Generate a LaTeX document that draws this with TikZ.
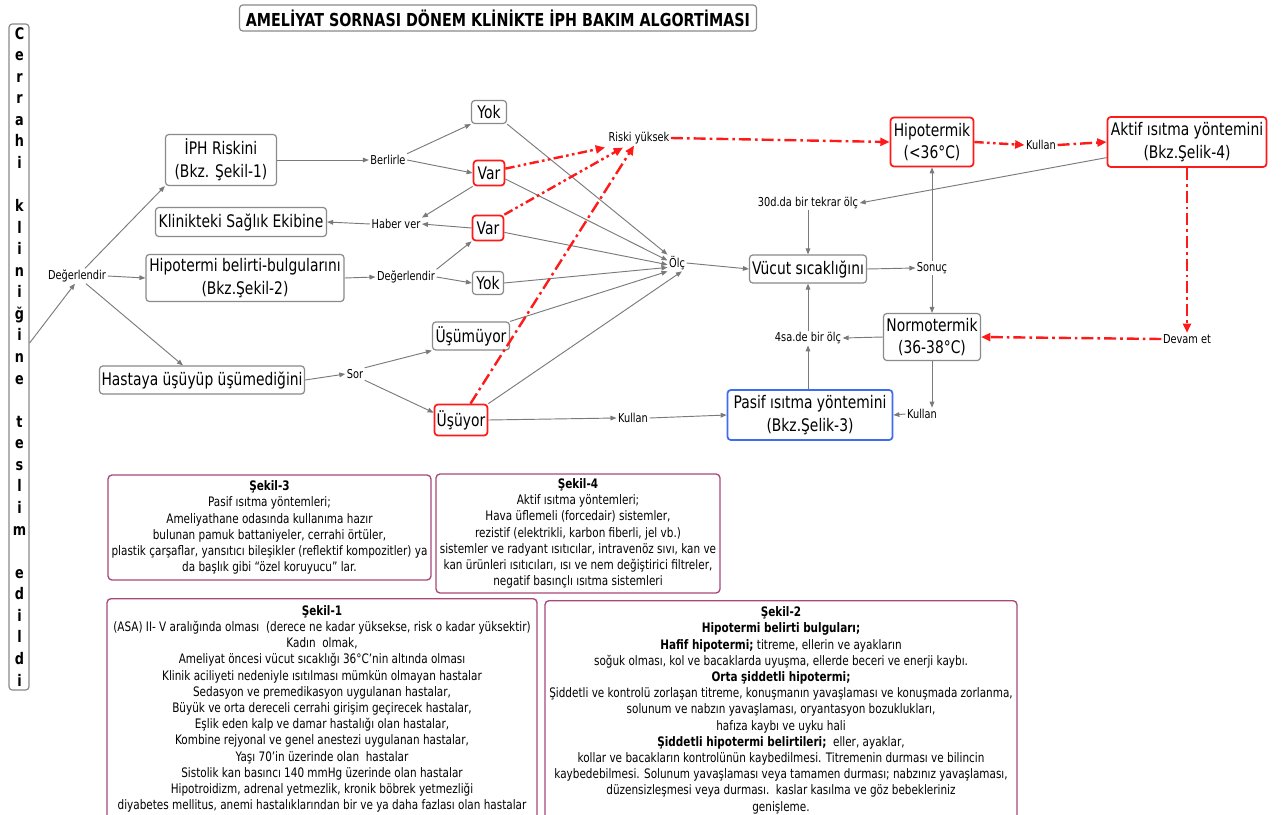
\documentclass[tikz,border=0pt]{standalone}
\usepackage{fontspec}
\setmainfont{DejaVu Sans}[FakeStretch=0.8]
\usetikzlibrary{arrows.meta,calc}

\definecolor{lnk}{HTML}{7A7A7A}
\definecolor{frm}{HTML}{8A8A8A}
\definecolor{hot}{HTML}{FF1A1A}
\definecolor{cool}{HTML}{3D6CF0}
\definecolor{plum}{HTML}{A8487A}

\newcommand{\mainfs}{\fontsize{13}{17}\selectfont}
\newcommand{\smallfs}{\fontsize{9.2}{11}\selectfont}
\newcommand{\notefs}{\fontsize{9.8}{12.15}\selectfont}
\newcommand{\titlefs}{\bfseries\fontsize{13.4}{15}\selectfont}
\newcommand{\barfs}{\bfseries\fontsize{12}{12}\selectfont}

\tikzset{
  sz/.style 2 args={minimum width=#1*0.75pt, minimum height=#2*0.75pt},
  box/.style={draw=frm, line width=0.9pt, rounded corners=2.5pt, align=center, inner sep=1pt, font=\mainfs},
  hotbox/.style={box, draw=hot, line width=1.3pt},
  coolbox/.style={box, draw=cool, line width=1.3pt},
  lbl/.style={inner sep=1pt, font=\smallfs},
  link/.style={draw=lnk, line width=0.7pt, -{Triangle[length=4.5pt,width=3.5pt]}},
  hotlink/.style={draw=hot, line width=1.8pt, dash pattern=on 9pt off 3pt on 2pt off 3pt, -{Triangle[length=7pt,width=6pt]}},
  hotlinkb/.style={hotlink, dash pattern=on 7pt off 2.5pt on 2pt off 2.5pt on 2pt off 2.5pt},
  note/.style={draw=plum, line width=1pt, rounded corners=3pt, align=center, font=\notefs, inner xsep=2pt}
}

\begin{document}
\begin{tikzpicture}[x=0.75pt,y=-0.75pt]
\useasboundingbox (0,0) rectangle (1288,814);
\fill[white] (0,0) rectangle (1288,814);

% title
\node[box, font=\titlefs, sz={517}{26}] (title) at (498,18) {AMELİYAT SORNASI DÖNEM KLİNİKTE İPH BAKIM ALGORTİMASI};

% vertical side bar
\node[draw=frm, line width=0.9pt, rounded corners=2.5pt, sz={20}{666}] (bar) at (19,357) {};
\foreach \k/\c in {0/C,1/e,2/r,3/r,4/a,5/h,6/i,8/k,9/l,10/i,11/n,12/i,13/ğ,14/i,15/n,16/e,18/t,19/e,20/s,21/l,22/i,23/m,25/e,26/d,27/i,28/l,29/d,30/i}
  \node[font=\barfs, anchor=base, inner sep=0pt] (bl\k) at (19.5,39+21.57*\k) {\c};

% main boxes
\node[box, sz={111}{51}] (iph) at (221,160) {İPH Riskini\\(Bkz. Şekil-1)};
\node[box, sz={171}{29}] (klinik) at (241,222) {Klinikteki Sağlık Ekibine};
\node[box, sz={198}{47}] (hipo) at (245,278) {Hipotermi belirti-bulgularını\\(Bkz.Şekil-2)};
\node[box, sz={205}{28}] (hasta) at (202,380) {Hastaya üşüyüp üşümediğini};
\node[box, sz={35}{23}] (yok1) at (489,112) {Yok};
\node[hotbox, sz={31}{25}] (var1) at (489,173) {Var};
\node[hotbox, sz={31}{25}] (var2) at (488,228) {Var};
\node[box, sz={31}{23}] (yok2) at (488,283) {Yok};
\node[box, sz={77}{28}] (usumuyor) at (471,336) {Üşümüyor};
\node[hotbox, sz={53}{31}] (usuyor) at (461,420) {Üşüyor};
\node[box, sz={117}{28}] (vucut) at (808,269) {Vücut sıcaklığını};
\node[hotbox, sz={83}{49}] (hipotermik) at (932,142) {Hipotermik\\(<36°C)};
\node[hotbox, sz={159}{50}] (aktif) at (1187,142) {Aktif ısıtma yöntemini\\(Bkz.Şelik-4)};
\node[box, sz={97}{47}] (normo) at (932,337) {Normotermik\\(36-38°C)};
\node[coolbox, sz={165}{50}] (pasif) at (810,415) {Pasif ısıtma yöntemini\\(Bkz.Şelik-3)};

% connector labels
\node[lbl] (deg1) at (77,276) {Değerlendir};
\node[lbl] (berlirle) at (388,160) {Berlirle};
\node[lbl] (haber) at (396,224) {Haber ver};
\node[lbl] (deg2) at (406,277) {Değerlendir};
\node[lbl] (sor) at (355,374) {Sor};
\node[lbl] (riski) at (639,138) {Riski yüksek};
\node[lbl] (olc) at (677,263) {Ölç};
\node[lbl] (sonuc) at (932,268) {Sonuç};
\node[lbl] (tekrar) at (808,203) {30d.da bir tekrar ölç};
\node[lbl] (kullanR) at (1041,145) {Kullan};
\node[lbl] (devam) at (1187,339) {Devam et};
\node[lbl] (dortsa) at (808,338) {4sa.de bir ölç};
\node[lbl] (kullanN) at (922,414) {Kullan};
\node[lbl] (kullanM) at (633,418) {Kullan};

% gray connectors
\draw[link] ($(bar.east)+(0,-14)$) -- (deg1.-105);
\draw[link] ($(deg1.north)+(8,0)$) -- (iph.south west);
\draw[link] (deg1.east) -- (hipo.west);
\draw[link] ($(deg1.south)+(9,0)$) -- ($(hasta.north)+(-19,0)$);
\draw[link] (iph.east) -- (berlirle.west);
\draw[link] (berlirle.north east) -- (yok1.south west);
\draw[link] (berlirle.east) -- (var1.west);
\draw[link] (var1.south west) -- (haber.north east);
\draw[link] (var2.west) -- (haber.east);
\draw[link] (haber.west) -- (klinik.east);
\draw[link] (hipo.east) -- (deg2.west);
\draw[link] (deg2.north east) -- (var2.south west);
\draw[link] (deg2.east) -- (yok2.west);
\draw[link] (hasta.east) -- (sor.west);
\draw[link] (sor.north east) -- (usumuyor.south west);
\draw[link] (sor.south east) -- (usuyor.165);
\draw[link] (yok1.south east) -- (olc.north west);
\draw[link] (var1.-20) -- (olc.165);
\draw[link] (var2.-15) -- (olc.190);
\draw[link] (yok2.east) -- (olc.205);
\draw[link] (usumuyor.north east) -- (olc.south west);
\draw[link] (usuyor.north east) -- (olc.-60);
\draw[link] (olc.east) -- (vucut.west);
\draw[link] (vucut.east) -- (sonuc.west);
\draw[link] (sonuc.north) -- (sonuc.north |- hipotermik.south);
\draw[link] (sonuc.south) -- (sonuc.south |- normo.north);
\draw[link] (aktif.191) -- (tekrar.east);
\draw[link] (tekrar.south) -- (tekrar.south |- vucut.north);
\draw[link] (normo.west) -- (dortsa.east);
\draw[link] (dortsa.south |- pasif.north) -- (dortsa.south);
\draw[link] (dortsa.north) -- (dortsa.north |- vucut.south);
\draw[link] (normo.south) -- (normo.south |- kullanN.north);
\draw[link] (kullanN.west) -- (pasif.east);
\draw[link] (usuyor.east) -- (kullanM.west);
\draw[link] (kullanM.east) -- (pasif.west);

% red (high risk) connectors
\draw[hotlinkb] (var1.15) -- ($(riski.south west)+(-2,2)$);
\draw[hotlinkb] (var2.north east) -- ($(riski.south west)+(16,2)$);
\draw[hotlink] (usuyor.60) -- ($(riski.south west)+(27,0)$);
\draw[hotlink] (riski.east) -- (hipotermik.west);
\draw[hotlinkb] (hipotermik.east) -- (kullanR.west);
\draw[hotlink] (kullanR.east) -- (aktif.west);
\draw[hotlink] (aktif.south) -- (aktif.south |- devam.north);
\draw[hotlink] (devam.west) -- (normo.east);

% reference notes
\node[note, sz={323}{105}] (sekil3) at (269.5,527.5) {\textbf{Şekil-3}\\
Pasif ısıtma yöntemleri;\\
Ameliyathane odasında kullanıma hazır\\
bulunan pamuk battaniyeler, cerrahi örtüler,\\
plastik çarşaflar, yansıtıcı bileşikler (reflektif kompozitler) ya\\
da başlık gibi “özel koruyucu” lar.};

\node[note, sz={284}{119}] (sekil4) at (578,533.5) {\textbf{Şekil-4}\\
Aktif ısıtma yöntemleri;\\
Hava üflemeli (forcedair) sistemler,\\
rezistif (elektrikli, karbon fiberli, jel vb.)\\
sistemler ve radyant ısıtıcılar, intravenöz sıvı, kan ve\\
kan ürünleri ısıtıcıları, ısı ve nem değiştirici filtreler,\\
negatif basınçlı ısıtma sistemleri};

\node[note, anchor=north, minimum width=430*0.75pt, inner ysep=5pt] (sekil1) at (322,598) {\textbf{Şekil-1}\\
(ASA) II- V aralığında olması\ \ (derece ne kadar yüksekse, risk o kadar yüksektir)\\
Kadın\ \ olmak,\\
Ameliyat öncesi vücut sıcaklığı 36°C’nin altında olması\\
Klinik aciliyeti nedeniyle ısıtılması mümkün olmayan hastalar\\
Sedasyon ve premedikasyon uygulanan hastalar,\\
Büyük ve orta dereceli cerrahi girişim geçirecek hastalar,\\
Eşlik eden kalp ve damar hastalığı olan hastalar,\\
Kombine rejyonal ve genel anestezi uygulanan hastalar,\\
Yaşı 70’in üzerinde olan\ \ hastalar\\
Sistolik kan basıncı 140 mmHg üzerinde olan hastalar\\
Hipotroidizm, adrenal yetmezlik, kronik böbrek yetmezliği\\
diyabetes mellitus, anemi hastalıklarından bir ve ya daha fazlası olan hastalar};

\node[note, anchor=north, minimum width=472*0.75pt, inner ysep=4.5pt] (sekil2) at (781,600) {\textbf{Şekil-2}\\
\textbf{Hipotermi belirti bulguları;}\\
\textbf{Hafif hipotermi;} titreme, ellerin ve ayakların\\
soğuk olması, kol ve bacaklarda uyuşma, ellerde beceri ve enerji kaybı.\\
\textbf{Orta şiddetli hipotermi;}\\
Şiddetli ve kontrolü zorlaşan titreme, konuşmanın yavaşlaması ve konuşmada zorlanma,\\
solunum ve nabzın yavaşlaması, oryantasyon bozuklukları,\\
hafıza kaybı ve uyku hali\\
\textbf{Şiddetli hipotermi belirtileri;}\ \ eller, ayaklar,\\
kollar ve bacakların kontrolünün kaybedilmesi. Titremenin durması ve bilincin\\
kaybedebilmesi. Solunum yavaşlaması veya tamamen durması; nabzınız yavaşlaması,\\
düzensizleşmesi veya durması.\ \ kaslar kasılma ve göz bebekleriniz\\
genişleme.};
\end{tikzpicture}
\end{document}
